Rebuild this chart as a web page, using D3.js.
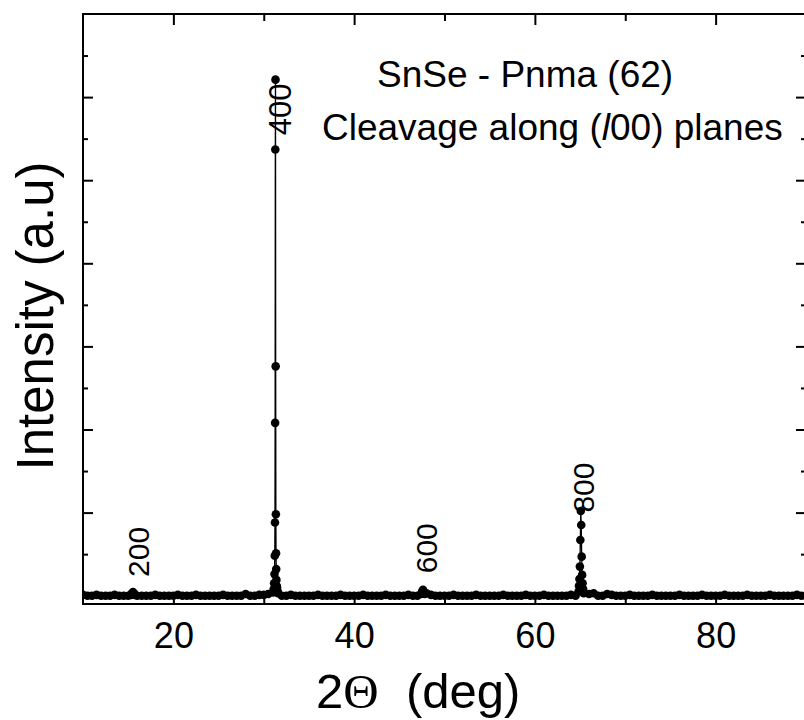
<!DOCTYPE html>
<html>
<head>
<meta charset="utf-8">
<script src="https://cdn.jsdelivr.net/npm/d3@7"></script>
<style>
  body { margin: 0; background: #fff; }
  text { font-family: "Liberation Sans", Arial, sans-serif; fill: #000; }
</style>
</head>
<body>
<svg id="chart"></svg>
<script>
// background of the scan, 0.5 deg step (intensity in units of one major y tick)
var bgTheta = [10,10.5,11,11.5,12,12.5,13,13.5,14,14.5,15,15.5,16,16.5,17,17.5,18,18.5,19,19.5,
               20,20.5,21,21.5,22,22.5,23,23.5,24,24.5,25,25.5,26,26.5,27,27.5,28,28.5,29,29.5,
               30,30.5,31,31.5,32,32.5,33,33.5,34,34.5,35,35.5,36,36.5,37,37.5,38,38.5,39,39.5,
               40,40.5,41,41.5,42,42.5,43,43.5,44,44.5,45,45.5,46,46.5,47,47.5,48,48.5,49,49.5,
               50,50.5,51,51.5,52,52.5,53,53.5,54,54.5,55,55.5,56,56.5,57,57.5,58,58.5,59,59.5,
               60,60.5,61,61.5,62,62.5,63,63.5,64,64.5,65,65.5,66,66.5,67,67.5,68,68.5,69,69.5,
               70,70.5,71,71.5,72,72.5,73,73.5,74,74.5,75,75.5,76,76.5,77,77.5,78,78.5,79,79.5,
               80,80.5,81,81.5,82,82.5,83,83.5,84,84.5,85,85.5,86,86.5,87,87.5,88,88.5,89,89.5,
               90];
var bgInt = [0.01,0,0,0.01,0,0,0,0.01,0,0, 0,0.01,0,0,0,0,0.01,0,0,0,
             0,0.01,0,0,0,0.01,0,0,0,0, 0,0.01,0,0,0,0,0.02,0,0,0.01,
             0.01,0.02,0.03,0.04,0,0,0.01,0,0,0, 0,0,0.01,0,0,0,0,0.01,0,0,
             0,0,0.01,0,0,0,0,0.01,0,0, 0,0,0.01,0,0,0.02,0.03,0.01,0,0,
             0,0,0.01,0,0,0,0,0.01,0,0, 0,0,0,0.01,0,0,0,0,0.01,0,
             0,0,0.01,0,0,0,0,0,0.01,0, 0.01,0.02,0.02,0.03,0,0,0.02,0.01,0,0,
             0,0.01,0,0,0,0,0.01,0,0,0, 0,0,0.01,0,0,0,0,0.01,0,0,
             0,0,0.01,0,0,0,0,0.01,0,0, 0,0,0.01,0,0,0,0,0,0.01,0,
             0];

// fine scan around the reflections
var p200Theta = [15.33,15.43,15.53,15.63,15.73];
var p200Int = [0.01,0.03,0.045,0.03,0.01];
var p400Theta = [31.03,31.10,31.15,31.19,31.22,31.24,31.26,31.28,31.30,31.32,31.34,31.36,31.38,31.40,31.43,31.47,31.52,31.58];
var p400Int = [0.04,0.08,0.15,0.26,0.48,0.88,2.08,5.37,6.21,2.76,0.98,0.51,0.32,0.19,0.12,0.10,0.06,0.03];
var p600Theta = [47.42,47.52,47.62,47.72,47.82];
var p600Int = [0.02,0.05,0.07,0.04,0.02];
var p800Theta = [64.83,64.88,64.93,64.98,65.03,65.08,65.13,65.18,65.23,65.28,65.34,65.40];
var p800Int = [0.05,0.12,0.20,0.35,0.67,1.02,0.85,0.47,0.25,0.15,0.08,0.03];

// Miller index labels
var peakLabels = ["200", "400", "600", "800"];
var labelTheta = [16.1, 31.8, 48.0, 65.4];
var labelInt = [0.225, 5.54, 0.27, 1.0];

var xMajor = [20, 40, 60, 80];
var xMinor = [30, 50, 70, 90];
var yMajor = [0, 1, 2, 3, 4, 5, 6];
var yMinor = [0.5, 1.5, 2.5, 3.5, 4.5, 5.5, 6.5];

var width = 804, height = 720;
var pLeft = 83, pRight = 806, pTop = 14, pBottom = 604;

var svg = d3.select("#chart").attr("width", width).attr("height", height);

var x = d3.scaleLinear().domain([10, 90]).range([pLeft, pRight]);
var y = d3.scaleLinear().domain([-0.1, 7.0]).range([pBottom, pTop]);

// merge background + peaks into one scan
var peaks = [[p200Theta, p200Int], [p400Theta, p400Int], [p600Theta, p600Int], [p800Theta, p800Int]];
var scan = [];
bgTheta.forEach(function(t, i) {
  var inPeak = peaks.some(p => t >= d3.min(p[0]) - 0.1 && t <= d3.max(p[0]) + 0.1);
  if (!inPeak) scan.push({t: t, v: bgInt[i]});
});
peaks.forEach(function(p) {
  p[0].forEach((t, i) => scan.push({t: t, v: p[1][i]}));
});
scan.sort((a, b) => a.t - b.t);

// ticks, all pointing inward
function ticks(axis, values, size, transform) {
  svg.append("g")
    .attr("transform", transform)
    .call(axis.tickValues(values).tickSize(size).tickFormat(""))
    .call(g => g.select(".domain").remove())
    .call(g => g.selectAll("line").attr("stroke", "#000").attr("stroke-width", 2));
}
ticks(d3.axisTop(x), xMajor, 10, "translate(0," + pBottom + ")");
ticks(d3.axisTop(x), xMinor, 6, "translate(0," + pBottom + ")");
ticks(d3.axisBottom(x), xMajor, 11, "translate(0," + pTop + ")");
ticks(d3.axisBottom(x), xMinor, 7, "translate(0," + pTop + ")");
ticks(d3.axisRight(y), yMajor, 10, "translate(" + pLeft + ",0)");
ticks(d3.axisRight(y), yMinor, 5, "translate(" + pLeft + ",0)");
ticks(d3.axisLeft(y), yMajor, 10, "translate(" + pRight + ",0)");
ticks(d3.axisLeft(y), yMinor, 5, "translate(" + pRight + ",0)");

// x tick labels
svg.append("g")
    .attr("transform", "translate(0," + pBottom + ")")
    .call(d3.axisBottom(x).tickValues(xMajor).tickSize(0).tickPadding(18).tickFormat(d3.format("d")))
    .call(g => g.select(".domain").remove())
    .call(g => g.attr("font-size", 36).attr("font-family", null));

// data
svg.append("clipPath").attr("id", "plot")
  .append("rect").attr("x", pLeft).attr("y", pTop).attr("width", pRight - pLeft).attr("height", pBottom - pTop);

var plot = svg.append("g").attr("clip-path", "url(#plot)");

plot.append("path")
    .datum(scan)
    .attr("fill", "none")
    .attr("stroke", "#000")
    .attr("stroke-width", 1.3)
    .attr("d", d3.line().x(d => x(d.t)).y(d => y(d.v)));

plot.selectAll(".pt")
    .data(scan)
    .enter()
    .append("circle")
      .classed("pt", true)
      .attr("cx", d => x(d.t))
      .attr("cy", d => y(d.v))
      .attr("r", 4.3)
      .attr("fill", "#000");

// frame
svg.append("rect")
    .attr("x", pLeft).attr("y", pTop)
    .attr("width", pRight - pLeft).attr("height", pBottom - pTop)
    .attr("fill", "none").attr("stroke", "#000").attr("stroke-width", 2);

// peak labels, rotated
svg.selectAll(".hkl")
    .data(peakLabels)
    .enter()
    .append("text")
      .classed("hkl", true)
      .attr("transform", (d, i) => "translate(" + x(labelTheta[i]) + "," + y(labelInt[i]) + ") rotate(-90)")
      .attr("dy", "0.35em")
      .attr("font-size", (d, i) => i == 1 ? 31 : 30)
      .text(d => d);

// annotation
svg.append("text").attr("x", 377).attr("y", 87).attr("font-size", 37).text("SnSe - Pnma (62)");
var cl = svg.append("text").attr("x", 322).attr("y", 140).attr("font-size", 37);
cl.append("tspan").text("Cleavage along (");
cl.append("tspan").attr("font-style", "italic").text("l");
cl.append("tspan").text("00) planes");

// axis titles
svg.append("text")
    .attr("transform", "translate(53,316) rotate(-90)")
    .attr("text-anchor", "middle")
    .attr("font-size", 51)
    .text("Intensity (a.u)");

var xt = svg.append("text").attr("x", 316).attr("y", 708).attr("font-size", 49).style("white-space", "pre");
xt.append("tspan").text("2");
xt.append("tspan").attr("font-family", "'Liberation Serif', 'Times New Roman', serif").text("\u0398");
xt.append("tspan").text("  (deg)");
</script>
</body>
</html>
